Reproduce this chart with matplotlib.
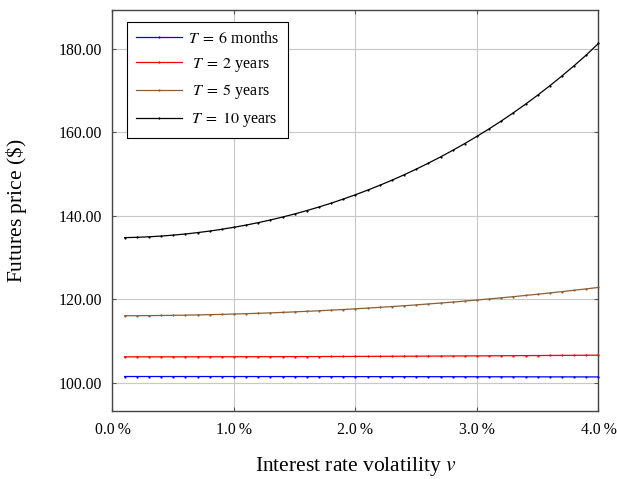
import matplotlib
matplotlib.use("Agg")
import matplotlib.pyplot as plt

plt.rcParams['font.family'] = ['Liberation Serif', 'DejaVu Serif']
plt.rcParams['mathtext.fontset'] = 'stix'

# Interest rate volatility v (%)
volatility = [0.1, 0.2, 0.3, 0.4, 0.5, 0.6, 0.7, 0.8, 0.9, 1.0,
              1.1, 1.2, 1.3, 1.4, 1.5, 1.6, 1.7, 1.8, 1.9, 2.0,
              2.1, 2.2, 2.3, 2.4, 2.5, 2.6, 2.7, 2.8, 2.9, 3.0,
              3.1, 3.2, 3.3, 3.4, 3.5, 3.6, 3.7, 3.8, 3.9, 4.0]

price_6m = [101.550, 101.550, 101.550, 101.549, 101.548, 101.548, 101.547, 101.546, 101.545, 101.544,
            101.543, 101.541, 101.540, 101.538, 101.536, 101.534, 101.532, 101.530, 101.528, 101.525,
            101.523, 101.520, 101.517, 101.514, 101.511, 101.508, 101.505, 101.501, 101.498, 101.494,
            101.490, 101.486, 101.482, 101.478, 101.474, 101.469, 101.465, 101.460, 101.455, 101.450]

price_2y = [106.260, 106.261, 106.262, 106.264, 106.266, 106.269, 106.272, 106.276, 106.280, 106.285,
            106.291, 106.297, 106.303, 106.310, 106.317, 106.325, 106.334, 106.343, 106.352, 106.362,
            106.373, 106.384, 106.395, 106.407, 106.420, 106.433, 106.446, 106.460, 106.475, 106.490,
            106.506, 106.522, 106.539, 106.556, 106.573, 106.592, 106.610, 106.629, 106.649, 106.669]

price_5y = [116.10, 116.11, 116.13, 116.16, 116.20, 116.24, 116.30, 116.36, 116.43, 116.51,
            116.60, 116.69, 116.79, 116.90, 117.03, 117.16, 117.29, 117.44, 117.59, 117.76,
            117.93, 118.11, 118.30, 118.49, 118.70, 118.92, 119.14, 119.37, 119.61, 119.86,
            120.12, 120.39, 120.67, 120.96, 121.25, 121.56, 121.88, 122.20, 122.53, 122.88]

price_10y = [134.80, 134.87, 135.00, 135.17, 135.40, 135.67, 136.00, 136.37, 136.80, 137.28,
             137.81, 138.39, 139.03, 139.73, 140.47, 141.28, 142.14, 143.05, 144.04, 145.07,
             146.17, 147.33, 148.55, 149.84, 151.20, 152.63, 154.12, 155.69, 157.33, 159.05,
             160.85, 162.72, 164.70, 166.76, 168.92, 171.17, 173.52, 175.97, 178.53, 181.30]

series_labels = ["$T\\;=\\;6$ months", " $T\\;=\\;2$ years", " $T\\;=\\;5$ years", "\u2009$T\\;=\\;10$ years"]
series_colors = ["#0000ff", "#ff0000", "#8c5e34", "#000000"]

x_ticks = [0, 1, 2, 3, 4]
x_tick_labels = ["0.0\u2009%", "1.0\u2009%", "2.0\u2009%", "3.0\u2009%", "4.0\u2009%"]
y_ticks = [100, 120, 140, 160, 180]
y_tick_labels = ["100.00", "120.00", "140.00", "160.00", "180.00"]

fig = plt.figure(figsize=(6.17, 4.79), dpi=100)
ax = fig.add_axes([0.1823, 0.1420, 0.7877, 0.8372])

for ys, lab, col in zip([price_6m, price_2y, price_5y, price_10y], series_labels, series_colors):
    ax.plot(volatility, ys, color=col, lw=0.9, marker='o', markersize=1.6,
            markeredgewidth=0, label=lab, clip_on=False, zorder=3)

ax.set_xlim(0, 4)
ax.set_ylim(93.3, 189.3)
ax.set_xticks(x_ticks)
ax.set_xticklabels(x_tick_labels)
ax.set_yticks(y_ticks)
ax.set_yticklabels(y_tick_labels)

ax.grid(True, color='#c8c8c8', lw=0.8, zorder=0)
ax.set_axisbelow(True)
ax.tick_params(direction='in', length=3, width=0.8, color='#555555',
               top=True, right=True, labelsize=11.3)
ax.tick_params(axis='x', pad=8)
ax.tick_params(axis='y', pad=7.5)
for sp in ax.spines.values():
    sp.set_color('#444444')
    sp.set_linewidth(1.0)

ax.set_xlabel("Interest rate volatility $v$", fontsize=15.5, labelpad=12)
ax.set_ylabel("Futures price ($\\$$)", fontsize=15.5, labelpad=21)

leg = ax.legend(loc='upper left', bbox_to_anchor=(0.030, 0.970), borderaxespad=0,
                fontsize=11.5, handlelength=2.9, handletextpad=0.35,
                labelspacing=0.55, borderpad=0.55, fancybox=False,
                framealpha=1, edgecolor='black')
leg.get_frame().set_linewidth(0.8)

fig.savefig("out.png", dpi=100)
